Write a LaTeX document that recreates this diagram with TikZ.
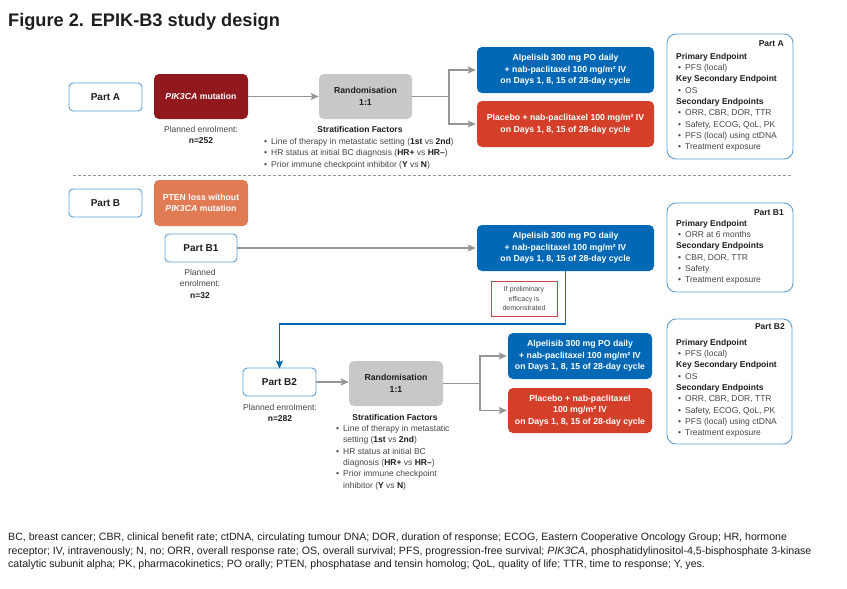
\documentclass[tikz,border=0pt]{standalone}
\usepackage{fontspec}
\setmainfont{Liberation Sans}
\usetikzlibrary{arrows.meta}
\definecolor{bblue}{RGB}{0,104,180}
\definecolor{rred}{RGB}{212,63,42}
\definecolor{dred}{RGB}{145,24,28}
\definecolor{oorange}{RGB}{224,123,84}
\definecolor{ggray}{RGB}{200,200,200}
\definecolor{oblue}{RGB}{95,160,215}
\definecolor{tgray}{RGB}{70,70,70}
\definecolor{agray}{RGB}{150,150,150}
\definecolor{bred}{RGB}{200,70,75}
\definecolor{tblack}{RGB}{30,30,30}
\newcommand{\bul}{\hspace*{2pt}\makebox[7pt][l]{•}}
\newcommand{\bulind}{\hspace*{9pt}}
\begin{document}
\begin{tikzpicture}[x=1pt,y=-1pt,
  fillbox/.style={rounded corners=5pt, inner sep=0pt, text=white, align=center,
    font=\fontsize{8.7}{11.5}\selectfont\bfseries},
  graybox/.style={rounded corners=5pt, inner sep=0pt, fill=ggray, text=tblack, align=center,
    font=\fontsize{8.7}{12}\selectfont\bfseries},
  partbox/.style={draw=oblue, line width=0.9pt, rounded corners=4pt, fill=white, inner sep=0pt,
    text=tblack, font=\fontsize{10}{12}\selectfont\bfseries},
  epbox/.style={draw=oblue, line width=0.9pt, rounded corners=9pt, inner sep=0pt},
  eptext/.style={anchor=north west, inner sep=0pt, align=left, text=tgray,
    font=\fontsize{8.5}{11.3}\selectfont},
  eplabel/.style={anchor=east, inner sep=0pt, text=tblack, font=\fontsize{8.5}{10}\selectfont\bfseries},
  smalltext/.style={inner sep=0pt, align=center, text=tgray, font=\fontsize{8.5}{11.5}\selectfont},
  strattext/.style={anchor=north west, inner sep=0pt, align=left, text=tgray,
    font=\fontsize{8.5}{11.4}\selectfont},
  gline/.style={draw=agray, line width=1.1pt},
  arr/.style={draw=agray, line width=1.1pt, -{Stealth[length=8pt,width=7pt,inset=1.5pt]}},
  barr/.style={draw=bblue, line width=1.4pt, -{Stealth[length=8pt,width=7pt,inset=1.5pt]}}
]
\useasboundingbox (0,0) rectangle (847,589);
\fill[white] (0,0) rectangle (847,589);

% title
\node[anchor=base west, inner sep=0pt, text=tblack, font=\fontsize{18.2}{20}\selectfont\bfseries] (title) at (8,26) {Figure 2. EPIK-B3 study design};

% ---------- Part A ----------
\node[partbox, minimum width=73, minimum height=28] (partA) at (105.5,97) {Part A};
\node[fillbox, fill=dred, minimum width=94, minimum height=45] (pik) at (201,96.5) {\textit{PIK3CA} mutation};
\node[smalltext] (peA) at (201,135) {Planned enrolment:\\\textcolor{tblack}{\bfseries n=252}};
\node[graybox, minimum width=93, minimum height=45] (randA) at (365.5,96.5) {Randomisation\\1:1};
\node[inner sep=0pt, text=tblack, font=\fontsize{8.5}{10}\selectfont\bfseries] (sfA) at (360,129.5) {Stratification Factors};
\node[strattext] (slA) at (262,138) {\bul Line of therapy in metastatic setting (\textcolor{tblack}{\bfseries 1st} vs \textcolor{tblack}{\bfseries 2nd})\\
\bul HR status at initial BC diagnosis (\textcolor{tblack}{\bfseries HR+} vs \textcolor{tblack}{\bfseries HR–})\\
\bul Prior immune checkpoint inhibitor (\textcolor{tblack}{\bfseries Y} vs \textcolor{tblack}{\bfseries N})};
\node[fillbox, fill=bblue, minimum width=177, minimum height=46] (blueA) at (565.5,70) {Alpelisib 300 mg PO daily\\+ nab-paclitaxel 100 mg/m² IV\\on Days 1, 8, 15 of 28-day cycle};
\node[fillbox, fill=rred, minimum width=177, minimum height=46] (redA) at (565.5,124) {Placebo + nab-paclitaxel 100 mg/m² IV\\on Days 1, 8, 15 of 28-day cycle};
\node[epbox, minimum width=126, minimum height=125] (epA) at (730,96.5) {};
\node[eplabel] (epAl) at (784,44) {Part A};
\node[eptext] (epAt) at (676,53) {\textcolor{tblack}{\bfseries Primary Endpoint}\\
\bul PFS (local)\\
\textcolor{tblack}{\bfseries Key Secondary Endpoint}\\
\bul OS\\
\textcolor{tblack}{\bfseries Secondary Endpoints}\\
\bul ORR, CBR, DOR, TTR\\
\bul Safety, ECOG, QoL, PK\\
\bul PFS (local) using ctDNA\\
\bul Treatment exposure};

\draw[arr] (pik.east) -- (randA.west);
\coordinate (jA) at (449,96.5);
\draw[gline] (randA.east) -- (jA);
\draw[arr] (jA) |- ([xshift=-1pt]blueA.west);
\draw[arr] (jA) |- ([xshift=-1pt]redA.west);

% divider
\coordinate (dL) at (73,175);
\coordinate (dR) at (793,175);
\draw[agray, line width=0.8pt, dash pattern=on 3pt off 2pt] (dL) -- (dR);

% ---------- Part B ----------
\node[partbox, minimum width=73, minimum height=28] (partB) at (105.5,203) {Part B};
\node[fillbox, fill=oorange, minimum width=94, minimum height=46] (pten) at (201,203) {PTEN loss without\\\textit{PIK3CA} mutation};
\node[partbox, minimum width=72, minimum height=28] (B1) at (201,248) {Part B1};
\node[smalltext] (peB1) at (200,283.5) {Planned\\enrolment:\\\textcolor{tblack}{\bfseries n=32}};
\node[fillbox, fill=bblue, minimum width=177, minimum height=46] (blueB1) at (565.5,248) {Alpelisib 300 mg PO daily\\+ nab-paclitaxel 100 mg/m² IV\\on Days 1, 8, 15 of 28-day cycle};
\node[draw=bred, line width=1pt, inner sep=0pt, minimum width=66, minimum height=35, align=center, text=tgray, font=\fontsize{7}{9.5}\selectfont] (cond) at (524,298.5) {If preliminary\\efficacy is\\demonstrated};
\node[epbox, minimum width=126, minimum height=89] (epB1) at (730,247.5) {};
\node[eplabel] (epB1l) at (784,213) {Part B1};
\node[eptext] (epB1t) at (676,220) {\textcolor{tblack}{\bfseries Primary Endpoint}\\
\bul ORR at 6 months\\
\textcolor{tblack}{\bfseries Secondary Endpoints}\\
\bul CBR, DOR, TTR\\
\bul Safety\\
\bul Treatment exposure};

\draw[arr] (B1.east) -- ([xshift=-1pt]blueB1.west);

% ---------- Part B2 ----------
\node[partbox, minimum width=73, minimum height=28] (B2) at (279.5,382) {Part B2};
\node[smalltext] (peB2) at (280,413) {Planned enrolment:\\\textcolor{tblack}{\bfseries n=282}};
\coordinate (bt) at (565.5,324);
\draw[barr] (blueB1.south) -- (bt) -| ([yshift=-1pt]B2.north);
\node[graybox, minimum width=94, minimum height=45] (randB2) at (396,383.5) {Randomisation\\1:1};
\node[inner sep=0pt, text=tblack, font=\fontsize{8.5}{10}\selectfont\bfseries] (sfB2) at (395,417.5) {Stratification Factors};
\node[strattext] (slB2) at (334,425) {\bul Line of therapy in metastatic\\
\bulind setting (\textcolor{tblack}{\bfseries 1st} vs \textcolor{tblack}{\bfseries 2nd})\\
\bul HR status at initial BC\\
\bulind diagnosis (\textcolor{tblack}{\bfseries HR+} vs \textcolor{tblack}{\bfseries HR–})\\
\bul Prior immune checkpoint\\
\bulind inhibitor (\textcolor{tblack}{\bfseries Y} vs \textcolor{tblack}{\bfseries N})};
\node[fillbox, fill=bblue, minimum width=144, minimum height=46] (blueB2) at (580,356) {Alpelisib 300 mg PO daily\\+ nab-paclitaxel 100 mg/m² IV\\on Days 1, 8, 15 of 28-day cycle};
\node[fillbox, fill=rred, minimum width=144, minimum height=45] (redB2) at (580,410.5) {Placebo + nab-paclitaxel\\100 mg/m² IV\\on Days 1, 8, 15 of 28-day cycle};
\node[epbox, minimum width=125, minimum height=125] (epB2) at (729.5,381.5) {};
\node[eplabel] (epB2l) at (785,327) {Part B2};
\node[eptext] (epB2t) at (676,339) {\textcolor{tblack}{\bfseries Primary Endpoint}\\
\bul PFS (local)\\
\textcolor{tblack}{\bfseries Key Secondary Endpoint}\\
\bul OS\\
\textcolor{tblack}{\bfseries Secondary Endpoints}\\
\bul ORR, CBR, DOR, TTR\\
\bul Safety, ECOG, QoL, PK\\
\bul PFS (local) using ctDNA\\
\bul Treatment exposure};

\draw[arr] (B2.east) -- (randB2.west |- B2.east);
\coordinate (jB) at (480,383.5);
\draw[gline] (randB2.east) -- (jB);
\draw[arr] (jB) |- ([xshift=-1pt]blueB2.west);
\draw[arr] (jB) |- ([xshift=-1pt]redB2.west);

% footnote
\node[anchor=north west, inner sep=0pt, align=left, text=tblack, font=\fontsize{10.6}{13.5}\selectfont] (foot) at (8,533) {BC, breast cancer; CBR, clinical benefit rate; ctDNA, circulating tumour DNA; DOR, duration of response; ECOG, Eastern Cooperative Oncology Group; HR, hormone\\
receptor; IV, intravenously; N, no; ORR, overall response rate; OS, overall survival; PFS, progression-free survival; \textit{PIK3CA}, phosphatidylinositol-4,5-bisphosphate 3-kinase\\
catalytic subunit alpha; PK, pharmacokinetics; PO orally; PTEN, phosphatase and tensin homolog; QoL, quality of life; TTR, time to response; Y, yes.};
\end{tikzpicture}
\end{document}
